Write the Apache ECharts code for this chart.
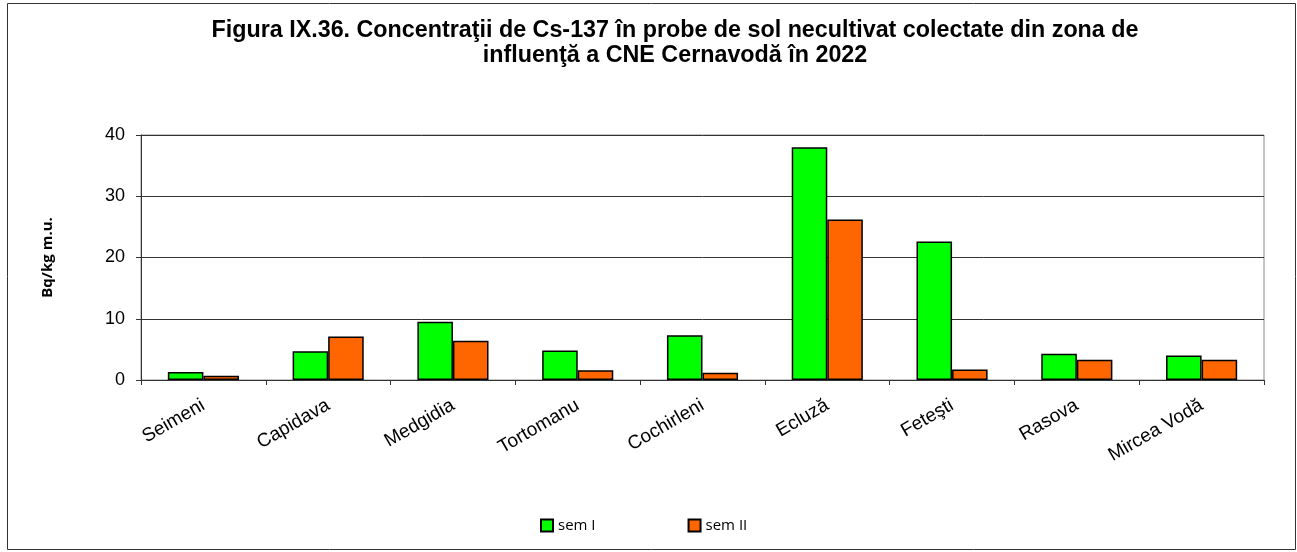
<!DOCTYPE html>
<html>
<head>
<meta charset="utf-8">
<script src="https://cdn.jsdelivr.net/npm/echarts@6/dist/echarts.min.js"></script>
<style>
  html, body { margin: 0; padding: 0; background: #fff; }
  #chart { width: 1297px; height: 552px; }
</style>
</head>
<body>
<div id="chart"></div>
<script>
// Sampling sites and Cs-137 concentrations (Bq/kg m.u.) per half-year
const categories = ['Seimeni', 'Capidava', 'Medgidia', 'Tortomanu', 'Cochirleni', 'Ecluză', 'Feteşti', 'Rasova', 'Mircea Vodă'];
const semI  = [1.3, 4.7, 9.5, 4.8, 7.3, 38.0, 22.6, 4.3, 4.0];
const semII = [0.7, 7.1, 6.4, 1.6, 1.2, 26.2, 1.7, 3.3, 3.3];
const seriesNames = ['sem I', 'sem II'];
const yTicks = { min: 0, max: 40, interval: 10 };

const ARIAL = '"Liberation Sans", Arial, sans-serif';
const chart = echarts.init(document.getElementById('chart'), null, { renderer: 'canvas' });

const barStyle = (color) => ({ color: color, borderColor: '#000', borderWidth: 1.5 });

chart.setOption({
  backgroundColor: '#fff',
  animation: false,
  title: {
    text: 'Figura IX.36. Concentraţii de Cs-137 în probe de sol necultivat colectate din zona de\ninfluenţă a CNE Cernavodă în 2022',
    left: 670,
    top: 13,
    textAlign: 'center',
    textStyle: {
      fontFamily: ARIAL,
      fontWeight: 'bold',
      fontSize: 23.3,
      lineHeight: 25,
      color: '#000',
      align: 'center'
    }
  },
  graphic: [{
    type: 'rect',
    shape: { x: 7.5, y: 3.5, width: 1288, height: 546 },
    style: { fill: 'none', stroke: '#333', lineWidth: 1 },
    silent: true,
    z: -1
  }],
  legend: {
    data: seriesNames,
    bottom: 14,
    left: 535,
    itemWidth: 12,
    itemHeight: 12,
    itemGap: 92,
    icon: 'rect',
    textStyle: {
      fontFamily: '"Open Sans", sans-serif',
      fontSize: 15,
      color: '#000'
    }
  },
  grid: {
    left: 141,
    right: 33,
    top: 135,
    bottom: 172,
    show: true,
    borderColor: '#888',
    borderWidth: 1
  },
  xAxis: {
    type: 'category',
    data: categories,
    axisLine: { lineStyle: { color: '#333', width: 1 } },
    axisTick: { show: true, length: 5, lineStyle: { color: '#333' } },
    axisLabel: {
      rotate: 30,
      margin: 24,
      interval: 0,
      fontFamily: ARIAL,
      fontSize: 19,
      color: '#000'
    }
  },
  yAxis: {
    type: 'value',
    min: yTicks.min,
    max: yTicks.max,
    interval: yTicks.interval,
    name: 'Bq/kg m.u.',
    nameLocation: 'middle',
    nameGap: 86,
    nameTextStyle: {
      fontFamily: '"Open Sans", sans-serif',
      fontWeight: 'bold',
      fontSize: 15,
      color: '#000'
    },
    axisLine: { show: true, lineStyle: { color: '#333', width: 1 } },
    axisTick: { show: true, length: 5, lineStyle: { color: '#333' } },
    axisLabel: {
      margin: 16,
      fontFamily: ARIAL,
      fontSize: 18,
      color: '#000'
    },
    splitLine: { show: true, lineStyle: { color: '#333', width: 1 } }
  },
  series: [
    {
      name: seriesNames[0],
      type: 'bar',
      data: semI,
      barGap: '0%',
      barCategoryGap: '43%',
      itemStyle: barStyle('#00ff00')
    },
    {
      name: seriesNames[1],
      type: 'bar',
      data: semII,
      itemStyle: barStyle('#ff6600')
    }
  ]
});
</script>
</body>
</html>
